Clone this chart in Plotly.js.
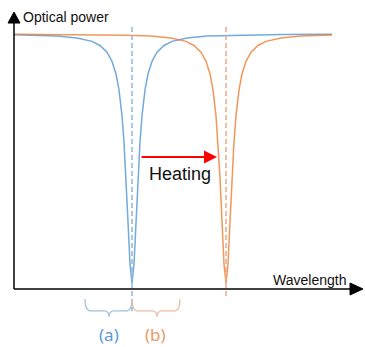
<!DOCTYPE html>
<html>
<head>
<meta charset="utf-8">
<script src="https://cdn.plot.ly/plotly-3.0.1.min.js"></script>
<style>html,body{margin:0;padding:0;background:#fff}#chart{width:365px;height:347px}</style>
</head>
<body>
<div id="chart"></div>
<script>
// Wavelength (arbitrary units) and normalised optical power
var blueX = [0, 18, 43, 63, 78, 86, 93, 98, 102, 105, 108, 110, 112, 114, 116, 118, 120, 122, 124, 126, 128, 131, 134, 138, 143, 150, 158, 173, 193, 218, 268, 318];
var blueY = [0.997, 0.995, 0.992, 0.984, 0.971, 0.955, 0.929, 0.893, 0.843, 0.781, 0.679, 0.577, 0.437, 0.264, 0.098, 0.024, 0.098, 0.264, 0.437, 0.577, 0.679, 0.781, 0.843, 0.893, 0.929, 0.955, 0.971, 0.984, 0.992, 0.995, 0.998, 0.999];
var orangeX = [0, 62, 112, 137, 157, 172, 180, 187, 192, 196, 199, 202, 204, 206, 208, 210, 212, 214, 216, 218, 220, 222, 225, 228, 232, 237, 244, 252, 267, 287, 318];
var orangeY = [0.999, 0.998, 0.995, 0.992, 0.984, 0.971, 0.955, 0.929, 0.893, 0.843, 0.781, 0.679, 0.577, 0.437, 0.264, 0.098, 0.024, 0.098, 0.264, 0.437, 0.577, 0.679, 0.781, 0.843, 0.893, 0.929, 0.955, 0.971, 0.984, 0.992, 0.996];
var resonances = [118, 212];           // blue (before) and orange (after heating)
var axisLabels = ["Optical power", "Wavelength"];
var arrowLabel = "Heating";
var braceLabels = ["(a)", "(b)"];

var BLUE = '#5b9bd5', ORANGE = '#ed7d31';
var FONT = 'Liberation Sans, Arial, sans-serif';

var traces = [
  {x: blueX, y: blueY, mode: 'lines', line: {color: BLUE, width: 1.5}, opacity: 0.85, hoverinfo: 'skip'},
  {x: orangeX, y: orangeY, mode: 'lines', line: {color: ORANGE, width: 1.5}, opacity: 0.8, hoverinfo: 'skip'},
  {x: [resonances[0], resonances[0]], y: [1.027, -0.086], mode: 'lines',
   line: {color: '#8fb6da', width: 1.5, dash: '5px,3px'}, hoverinfo: 'skip'},
  {x: [resonances[1], resonances[1]], y: [1.027, -0.031], mode: 'lines',
   line: {color: '#eca888', width: 1.5, dash: '5px,3px'}, hoverinfo: 'skip'}
];

var shapes = [
  // y axis + arrowhead
  {type: 'line', xref: 'x', yref: 'y', x0: 0, x1: 0, y0: 0, y1: 1.045, line: {color: '#000', width: 1.5}},
  {type: 'path', xref: 'x', yref: 'y', path: 'M -6,1.043 L 0,1.086 L 6,1.043 Z', fillcolor: '#000', line: {color: '#000', width: 1}},
  // x axis + arrowhead
  {type: 'line', xref: 'x', yref: 'y', x0: 0, x1: 338, y0: 0, y1: 0, line: {color: '#000', width: 1.5}},
  {type: 'path', xref: 'x', yref: 'y', path: 'M 336,0.0235 L 349,0 L 336,-0.0235 Z', fillcolor: '#000', line: {color: '#000', width: 1}},
  // braces
  {type: 'path', xref: 'x', yref: 'y', line: {color: '#9fc0dc', width: 1.2},
   path: 'M 71,-0.039 Q 71,-0.086 77,-0.086 L 90,-0.086 Q 95,-0.086 95,-0.110 Q 95,-0.086 100,-0.086 L 112,-0.086 Q 118,-0.086 118,-0.039'},
  {type: 'path', xref: 'x', yref: 'y', line: {color: '#eebc9e', width: 1.2},
   path: 'M 118,-0.039 Q 118,-0.086 124,-0.086 L 138,-0.086 Q 143,-0.086 143,-0.110 Q 143,-0.086 148,-0.086 L 160,-0.086 Q 166,-0.086 166,-0.039'}
];

var annotations = [
  {x: 7, y: 1.067, xref: 'x', yref: 'y', text: axisLabels[0], showarrow: false, xanchor: 'left', yanchor: 'middle',
   font: {family: FONT, size: 14, color: '#111'}},
  {x: 257, y: 0.037, xref: 'x', yref: 'y', text: axisLabels[1], showarrow: false, xanchor: 'left', yanchor: 'middle',
   font: {family: FONT, size: 14, color: '#111'}},
  {x: 133, y: 0.451, xref: 'x', yref: 'y', text: arrowLabel, showarrow: false, xanchor: 'left', yanchor: 'middle',
   font: {family: FONT, size: 18, color: '#111'}},
  {x: 203, y: 0.5176, ax: 126, ay: 0.5176, xref: 'x', yref: 'y', axref: 'x', ayref: 'y', text: '',
   showarrow: true, arrowhead: 2, arrowsize: 1.3, arrowwidth: 2, arrowcolor: '#ff0000'},
  {x: 94.5, y: -0.1765, xref: 'x', yref: 'y', text: braceLabels[0], showarrow: false, xanchor: 'center', yanchor: 'middle',
   font: {family: 'Noto Sans, sans-serif', size: 17, color: '#5b9bd5'}},
  {x: 141, y: -0.1765, xref: 'x', yref: 'y', text: braceLabels[1], showarrow: false, xanchor: 'center', yanchor: 'middle',
   font: {family: 'Noto Sans, sans-serif', size: 17, color: '#ed9b6a'}}
];

var layout = {
  width: 365, height: 347,
  margin: {l: 0, r: 0, t: 0, b: 0, pad: 0},
  paper_bgcolor: '#fff', plot_bgcolor: '#fff',
  showlegend: false,
  xaxis: {range: [-14, 351], visible: false, fixedrange: true},
  yaxis: {range: [-0.2275, 1.1333], visible: false, fixedrange: true},
  shapes: shapes,
  annotations: annotations
};

Plotly.newPlot('chart', traces, layout, {displayModeBar: false, staticPlot: true});
</script>
</body>
</html>
